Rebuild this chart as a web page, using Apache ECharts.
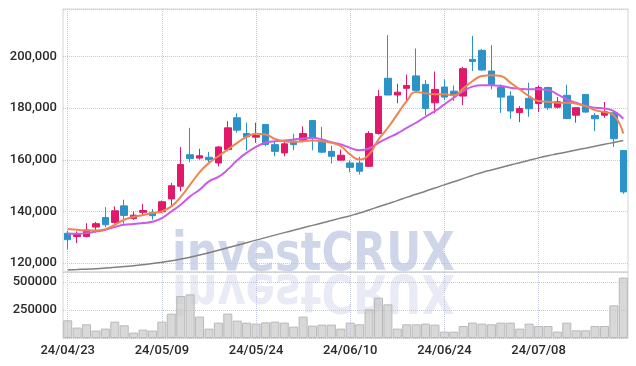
<!DOCTYPE html>
<html>
<head>
<meta charset="utf-8">
<script src="https://cdn.jsdelivr.net/npm/echarts@6/dist/echarts.min.js"></script>
<style>
  html, body { margin: 0; padding: 0; background: #fff; }
  #chart { width: 636px; height: 366px; }
</style>
</head>
<body>
<div id="chart"></div>
<script>
// 날짜 (거래일)
var dates = ['24/04/23','24/04/24','24/04/25','24/04/26','24/04/29','24/04/30','24/05/02','24/05/03','24/05/07','24/05/08',
  '24/05/09','24/05/10','24/05/13','24/05/14','24/05/16','24/05/17','24/05/20','24/05/21','24/05/22','24/05/23',
  '24/05/24','24/05/27','24/05/28','24/05/29','24/05/30','24/05/31','24/06/03','24/06/04','24/06/05','24/06/07',
  '24/06/10','24/06/11','24/06/12','24/06/13','24/06/14','24/06/17','24/06/18','24/06/19','24/06/20','24/06/21',
  '24/06/24','24/06/25','24/06/26','24/06/27','24/06/28','24/07/01','24/07/02','24/07/03','24/07/04','24/07/05',
  '24/07/08','24/07/09','24/07/10','24/07/11','24/07/12','24/07/15','24/07/16','24/07/17','24/07/18','24/07/19'];

var opens  = [131600,130300,130300,134000,137700,135800,142200,137300,139700,139600,
  139900,144900,149800,162000,160700,161000,158800,164000,176300,170200,
  168800,173700,165900,162700,167200,167600,175200,167600,163300,159900,
  158800,158800,157500,170200,191600,185100,187700,192500,189200,182100,
  188200,186600,184700,198900,202400,194400,188000,184700,178300,183800,
  181800,188000,180400,185000,177300,185300,177200,177300,178200,163600];
var closes = [129100,131100,132900,135300,134900,140300,138500,138600,140400,138400,
  143800,150000,158200,160500,161600,160100,165000,172400,171500,168900,
  169400,166000,163300,166200,165900,170200,168500,163000,161400,161800,
  157100,155600,170200,184500,185100,186200,188800,186900,179900,187300,
  184300,185100,195300,198100,194800,189200,184300,178900,179900,179800,
  188000,180200,182500,176000,180200,178500,175900,178600,168200,147600];
var lows   = [125400,127800,130100,131900,134000,135300,135300,136800,138500,136800,
  139400,141800,147800,159100,160100,159100,157500,163300,170500,163600,
  166600,165300,161400,161400,163700,166800,163700,162700,158600,159800,
  155200,154300,157300,169800,185100,181900,182400,186900,177300,178000,
  183100,182800,181200,194400,194500,187300,178200,175900,174600,176700,
  178500,179300,179900,176000,174400,178300,171100,176300,165000,146900];
var highs  = [132600,132300,135500,136000,141700,142000,144600,140000,142900,141000,
  144300,151100,165000,172400,164300,163100,165300,175000,178000,174400,
  174400,173800,167200,167000,170100,173000,175400,172800,165500,164000,
  159800,161200,171100,187000,208300,189500,193000,203100,190900,194200,
  191200,188800,196000,208000,202900,204400,189200,186600,180800,189900,
  188800,188300,184300,189100,180400,185400,178200,182400,178500,163600];

// 이동평균선
var ma5 = [133200,132930,132660,132660,133200,134870,136810,137870,138640,139420,
  140040,142000,145650,150410,155180,158840,161400,164000,166600,168930,
  170100,169830,168150,167230,166990,167230,167500,167230,166600,165280,
  162060,160120,162060,167880,172430,177590,182760,186250,185750,185360,
  185360,184970,187570,190520,192470,192740,192470,189900,187300,184700,
  182760,182520,182140,182140,181750,180820,179260,178490,177200,170210];
var ma20 = [131380,131380,131650,132270,132930,134000,134870,135150,135540,136040,
  137480,140040,142640,145880,148470,151700,153400,156230,159840,162720,
  165050,166600,167230,167500,167880,168270,168540,167880,166840,165940,
  164660,163730,164390,166600,168540,170210,172430,174370,176700,178870,
  181470,184080,186640,188350,188850,188850,188580,187960,187570,187300,
  187300,187030,185360,183420,182140,180820,180190,179920,178870,175920];
var ma120 = [117400,117550,117710,117900,118140,118410,118720,119030,119420,119880,
  120390,120930,121590,122330,123150,124080,125050,126020,126990,127960,
  128930,129900,130870,131840,132780,133710,134640,135570,136500,137480,
  138410,139420,140620,141830,143030,144230,145480,146680,147880,149130,
  150330,151530,152740,153980,155150,156120,157050,157980,158910,159840,
  160780,161590,162330,163070,163810,164540,165280,166020,166760,167500];

// 거래량
var volumes = [158000,92900,122300,66100,83900,146400,113400,48200,75000,66100,
  146400,217900,375000,390200,191100,83900,137500,217900,155400,137500,
  128600,140200,146400,137500,101800,191100,110700,119600,119600,83900,
  137500,122300,256300,360700,300900,83900,122300,122300,128600,119600,
  57100,57100,107100,137500,128600,122300,137500,137500,83900,128600,
  107100,107100,57100,137500,68800,68800,107100,107100,292000,539300];

var candles = opens.map(function (o, i) {
  return [o, closes[i], lows[i], highs[i]];
});

var chart = echarts.init(document.getElementById('chart'));

var gridLine = { type: 'dotted', color: '#c3c7db', width: 1 };
var labelFont = { color: '#2a2a2a', fontSize: 13, fontFamily: 'Roboto', fontWeight: 500 };
var markText = {
  text: 'investCRUX', font: 'bold 54px "DejaVu Sans"', verticalAlign: 'bottom'
};

var option = {
  animation: false,
  backgroundColor: '#fff',
  grid: [
    { left: 63, right: 8, top: 9, height: 263, show: true, borderColor: '#d4d4d4', borderWidth: 1 },
    { left: 63, right: 8, top: 272, height: 66, show: true, borderColor: '#d4d4d4', borderWidth: 1 }
  ],
  graphic: [
    {
      type: 'text', z: 0, x: 172, y: 283, scaleX: 0.8,
      style: Object.assign({ fill: 'rgba(170,180,215,0.55)' }, markText)
    },
    {
      type: 'text', z: 0, x: 172, y: 262, scaleX: 0.8, scaleY: -1,
      style: Object.assign({ fill: 'rgba(190,198,225,0.35)' }, markText)
    }
  ],
  xAxis: [
    {
      type: 'category', gridIndex: 0, data: dates, boundaryGap: true,
      axisLine: { show: false }, axisTick: { show: false }, axisLabel: { show: false },
      splitLine: { show: true, interval: 9, alignWithLabel: true, lineStyle: gridLine }
    },
    {
      type: 'category', gridIndex: 1, data: dates, boundaryGap: true,
      axisLine: { show: false }, axisTick: { show: false },
      axisLabel: Object.assign({ interval: 9, margin: 6 }, labelFont),
      splitLine: { show: true, interval: 9, alignWithLabel: true, lineStyle: gridLine }
    }
  ],
  yAxis: [
    {
      type: 'value', gridIndex: 0, min: 116600, max: 218400, splitNumber: 5,
      axisLine: { show: false }, axisTick: { show: false },
      axisLabel: Object.assign({ showMinLabel: false, showMaxLabel: false, margin: 6 }, labelFont),
      splitLine: { lineStyle: gridLine }
    },
    {
      type: 'value', gridIndex: 1, min: 0, max: 590000, interval: 250000,
      axisLine: { show: false }, axisTick: { show: false },
      axisLabel: Object.assign({
        showMinLabel: false, showMaxLabel: false, margin: 6,
        formatter: function (v) { return String(v); }
      }, labelFont),
      splitLine: { lineStyle: gridLine }
    }
  ],
  series: [
    {
      name: '거래량', type: 'bar', xAxisIndex: 1, yAxisIndex: 1, data: volumes,
      barCategoryGap: '4%',
      itemStyle: { color: 'rgba(200,200,200,0.7)', borderColor: '#b9b9b9', borderWidth: 1 }
    },
    {
      name: 'MA120', type: 'line', data: ma120, smooth: true, showSymbol: false,
      lineStyle: { color: '#808080', width: 1.5 }
    },
    {
      name: '주가', type: 'candlestick', data: candles, barWidth: 7,
      itemStyle: {
        color: '#e2196a', color0: '#2c93c8',
        borderColor: '#e2196a', borderColor0: '#2c93c8', borderWidth: 1
      }
    },
    {
      name: 'MA20', type: 'line', data: ma20, smooth: true, showSymbol: false,
      lineStyle: { color: '#cc5ae8', width: 2 }
    },
    {
      name: 'MA5', type: 'line', data: ma5, smooth: true, showSymbol: false,
      lineStyle: { color: '#ee8550', width: 2 }
    }
  ]
};

chart.setOption(option);
</script>
</body>
</html>
